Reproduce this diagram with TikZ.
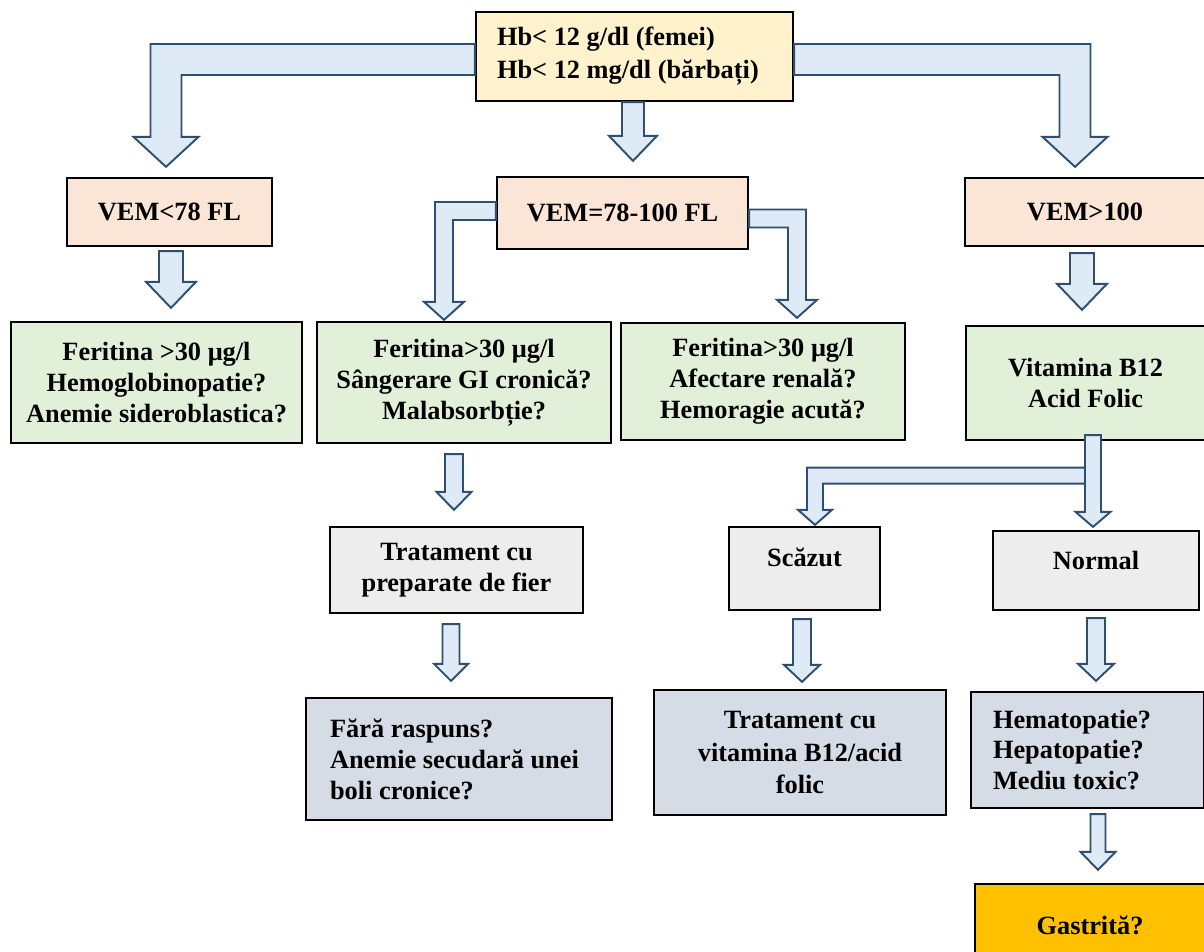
\documentclass[tikz,border=0pt]{standalone}
\usepackage{fontspec}
\setmainfont{Liberation Serif}
\usetikzlibrary{calc}

\definecolor{hbfill}{HTML}{FFF2CC}
\definecolor{vemfill}{HTML}{FBE5D6}
\definecolor{ferfill}{HTML}{E2F0D9}
\definecolor{grayfill}{HTML}{EDEDED}
\definecolor{slatefill}{HTML}{D6DCE5}
\definecolor{gastfill}{HTML}{FFC000}
\definecolor{arrfill}{HTML}{DEEBF7}
\definecolor{arrline}{HTML}{304F6E}

% straight block arrow: start, tip, half shaft, half head, head length
\newcommand{\blkdown}[5]{%
  \draw[blk] let \p1=#1, \p2=#2 in
    (\x2-#3,\y1) -- (\x2-#3,\y2+#5) -- (\x2-#4,\y2+#5) -- (\p2)
    -- (\x2+#4,\y2+#5) -- (\x2+#3,\y2+#5) -- (\x2+#3,\y1) -- cycle;}
% bent block arrow: sideways out of a box, then down
\newcommand{\blkturn}[5]{%
  \draw[blk] let \p1=#1, \p2=#2, \n1={sign(\x2-\x1)}, \n2={\n1*#3}, \n3={\n1*#4} in
    (\x1,\y1+#3) -- ({\x2+\n2},\y1+#3) -- ({\x2+\n2},\y2+#5)
    -- ({\x2+\n3},\y2+#5) -- (\p2) -- ({\x2-\n3},\y2+#5)
    -- ({\x2-\n2},\y2+#5) -- ({\x2-\n2},\y1-#3) -- (\x1,\y1-#3) -- cycle;}

\begin{document}
\begin{tikzpicture}[x=0.02cm, y=0.02cm,
    font=\fontsize{15}{17.6}\selectfont\bfseries,
    b/.style={draw, line width=1.3pt, align=flush center, inner sep=2pt},
    blk/.style={draw=arrline, fill=arrfill, line width=1.1pt, line join=miter}]
  \useasboundingbox (0,0) rectangle (1204,-951);
  \clip (0,0) rectangle (1204,-951);
  % top
  \node[b, fill=hbfill, minimum width=6.34cm, minimum height=1.78cm, text width=5.5cm, align=flush left,
        font=\fontsize{15}{18.7}\selectfont\bfseries] (hb) at (634.5,-56.5)
        {Hb< 12 g/dl (femei)\\ Hb< 12 mg/dl (bărbați)};
  % VEM
  \node[b, fill=vemfill, minimum width=4.10cm, minimum height=1.36cm] (vem1) at (169.5,-212) {VEM<78 FL};
  \node[b, fill=vemfill, minimum width=5.02cm, minimum height=1.44cm] (vem2) at (622.5,-213) {VEM=78-100 FL};
  \node[b, fill=vemfill, minimum width=4.80cm, minimum height=1.36cm] (vem3) at (1085,-212) {VEM>100};
  % feritina
  \node[b, fill=ferfill, minimum width=5.82cm, minimum height=2.42cm] (fer1) at (156.5,-382.5)
        {Feritina >30 μg/l\\ Hemoglobinopatie?\\ Anemie sideroblastica?};
  \node[b, fill=ferfill, minimum width=5.88cm, minimum height=2.42cm] (fer2) at (464,-382.5)
        {Feritina>30 μg/l\\ Sângerare GI cronică?\\ Malabsorbție?};
  \node[b, fill=ferfill, minimum width=5.68cm, minimum height=2.34cm] (fer3) at (763,-381.5)
        {Feritina>30 μg/l\\ Afectare renală?\\ Hemoragie acută?};
  \node[b, fill=ferfill, minimum width=4.78cm, minimum height=2.28cm] (vit) at (1085.5,-383)
        {Vitamina B12\\ Acid Folic};
  % grey row
  \node[b, fill=grayfill, minimum width=5.06cm, minimum height=1.72cm] (trat1) at (456.5,-570)
        {Tratament cu\\ preparate de fier};
  \node[b, fill=grayfill, minimum width=3.02cm, minimum height=1.66cm, text depth=13pt] (scaz) at (804.5,-568.5) {Scăzut};
  \node[b, fill=grayfill, minimum width=4.12cm, minimum height=1.58cm, text depth=11pt] (norm) at (1096,-570.5) {Normal};
  % bottom
  \node[b, fill=slatefill, minimum width=6.12cm, minimum height=2.44cm, text width=5.16cm, align=flush left] (fara) at (459,-759)
        {Fără raspuns?\\ Anemie secudară unei\\ boli cronice?};
  \node[b, fill=slatefill, minimum width=5.84cm, minimum height=2.50cm,
        font=\fontsize{15}{18.4}\selectfont\bfseries] (trat2) at (800,-752.5)
        {Tratament cu\\ vitamina B12/acid\\ folic};
  \node[b, fill=slatefill, minimum width=4.66cm, minimum height=2.32cm, text width=3.78cm, align=flush left] (hema) at (1087.5,-750)
        {Hematopatie?\\ Hepatopatie?\\ Mediu toxic?};
  \node[b, fill=gastfill, minimum width=4.60cm, minimum height=1.64cm] (gast) at (1090,-925) {Gastrită?};
  % arrows
  \blkturn{($(hb.west)+(0,-3)$)}{($(vem1.north)+(-3.5,10)$)}{0.31cm}{0.65cm}{0.6cm}
  \blkturn{($(hb.east)+(0,-3)$)}{($(vem3.north)+(-10,10)$)}{0.31cm}{0.65cm}{0.6cm}
  \blkdown{($(hb.south)+(-1.5,0)$)}{($(vem2.north)+(10.5,15)$)}{0.22cm}{0.48cm}{0.5cm}
  \blkturn{($(vem2.west)+(0,2)$)}{($(fer2.north)+(-20,1)$)}{0.18cm}{0.40cm}{0.36cm}
  \blkturn{($(vem2.east)+(0,-5.5)$)}{($(fer3.north)+(34,4)$)}{0.18cm}{0.40cm}{0.36cm}
  \blkdown{($(vem1.south)+(1.5,-4)$)}{($(fer1.north)+(14.5,13)$)}{0.24cm}{0.50cm}{0.52cm}
  \blkdown{($(vem3.south)+(-3,-6)$)}{($(vit.north)+(-3.5,15)$)}{0.24cm}{0.50cm}{0.52cm}
  \blkdown{($(fer2.south)+(-10,-10)$)}{($(trat1.north)+(-2.5,16)$)}{0.18cm}{0.35cm}{0.36cm}
  \blkdown{($(vit.south)+(7.5,6)$)}{($(norm.north)+(-3,3)$)}{0.16cm}{0.35cm}{0.30cm}
  \blkturn{($(vit.south)+(-0.5,-34.5)$)}{($(scaz.north)+(10.5,1)$)}{0.16cm}{0.34cm}{0.30cm}
  \blkdown{($(trat1.south)+(-5.5,-10)$)}{($(fara.north)+(-8,16)$)}{0.17cm}{0.34cm}{0.34cm}
  \blkdown{($(scaz.south)+(-2.5,-8)$)}{($(trat2.north)+(2,7)$)}{0.18cm}{0.36cm}{0.34cm}
  \blkdown{($(norm.south)+(0,-7)$)}{($(hema.north)+(8.5,10)$)}{0.18cm}{0.36cm}{0.34cm}
  \blkdown{($(hema.south)+(10.5,-5)$)}{($(gast.north)+(8,13)$)}{0.15cm}{0.35cm}{0.36cm}
\end{tikzpicture}
\end{document}
